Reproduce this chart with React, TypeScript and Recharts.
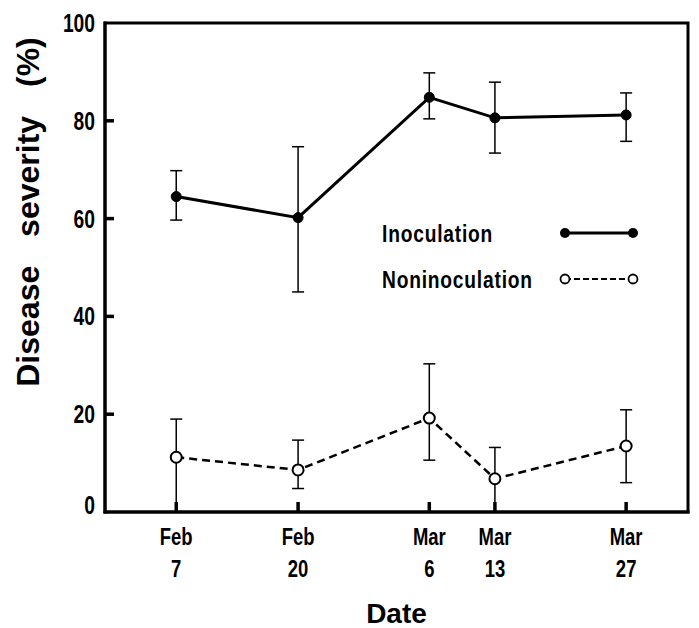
import { ErrorBar, Line, LineChart, ReferenceArea, XAxis, YAxis } from "recharts";

// sampling dates (day of year) and their printed labels
const days = [38, 51, 65, 72, 86];
const months = ["Feb", "Feb", "Mar", "Mar", "Mar"];
const dayLabels = ["7", "20", "6", "13", "27"];
const yTicks = [0, 20, 40, 60, 80, 100];
const xDomain = [30.4, 92.6];

// disease severity (%) with error bars (minus, plus)
const inoculation = [64.5, 60.2, 84.8, 80.6, 81.2];
const inocErrLow = [4.8, 15.2, 4.4, 7.2, 5.4];
const inocErrHigh = [5.3, 14.5, 5.0, 7.3, 4.5];
const noninoculation = [11.2, 8.6, 19.2, 6.8, 13.5];
const noninErrLow = [11.2, 3.8, 8.6, 6.8, 7.5];
const noninErrHigh = [7.8, 6.1, 11.1, 6.4, 7.4];

const data = days.map((d, i) => ({
  day: d,
  inoc: inoculation[i],
  inocErr: [inocErrLow[i], inocErrHigh[i]],
  nonin: noninoculation[i],
  noninErr: [noninErrLow[i], noninErrHigh[i]],
}));

const font = "'Liberation Sans', Arial, Helvetica, sans-serif";
const frame = { stroke: "#000", strokeWidth: 3, strokeLinecap: "square" as const };

// condensed bold text, like the labels of the printed figure
const Narrow = ({ x, y, size, anchor, children, sx = 0.77, ls = 0 }: any) => (
  <text
    transform={`translate(${x},${y}) scale(${sx},1)`}
    textAnchor={anchor}
    fontFamily={font}
    fontWeight={700}
    fontSize={size}
    letterSpacing={ls}
    fill="#000"
  >
    {children}
  </text>
);

const XTick = ({ x, y, payload }: any) => {
  const i = days.indexOf(payload.value);
  return (
    <g>
      <line x1={x} x2={x} y1={y} y2={y - 10} stroke="#000" strokeWidth={3.5} />
      <Narrow x={x} y={y + 33} size={24} anchor="middle">{months[i]}</Narrow>
      <Narrow x={x} y={y + 65} size={24} anchor="middle">{dayLabels[i]}</Narrow>
    </g>
  );
};

const YTick = ({ x, y, payload }: any) => {
  const v = payload.value;
  return (
    <g>
      {v > 0 && v < 100 && <line x1={x} x2={x + 9} y1={y} y2={y} stroke="#000" strokeWidth={3.5} />}
      <Narrow x={x - 10} y={(v === 0 ? y - 7 : y) + 9} size={25} anchor="end">{v}</Narrow>
    </g>
  );
};

const LegendBox = () => (
  <svg width={300} height={90} style={{ position: "absolute", left: 374, top: 208 }}>
    <Narrow x={0} y={26} size={24} anchor="start" sx={0.8} ls={1}>Inoculation</Narrow>
    <line x1={183} x2={251} y1={17} y2={17} stroke="#000" strokeWidth={3} />
    <circle cx={183} cy={17} r={5} fill="#000" />
    <circle cx={251} cy={17} r={5} fill="#000" />
    <Narrow x={0} y={72} size={24} anchor="start" sx={0.8} ls={1}>Noninoculation</Narrow>
    <line x1={183} x2={251} y1={63} y2={63} stroke="#000" strokeWidth={2} strokeDasharray="6 3" />
    <circle cx={183} cy={63} r={4.5} fill="#fff" stroke="#000" strokeWidth={1.8} />
    <circle cx={251} cy={63} r={4.5} fill="#fff" stroke="#000" strokeWidth={1.8} />
  </svg>
);

export default function App() {
  return (
    <div style={{ position: "relative", width: 691, height: 620 }}>
      <LineChart width={691} height={620} data={data} margin={{ top: 15, right: 11, bottom: 0, left: 0 }}>
        <XAxis
          dataKey="day"
          type="number"
          domain={xDomain}
          ticks={days}
          height={116}
          axisLine={frame}
          tickLine={false}
          tickSize={0}
          tickMargin={0}
          tick={<XTick />}
          allowDataOverflow
          label={{ value: "Date", position: "insideBottom", offset: 5, fontFamily: font, fontWeight: 700, fontSize: 28, fill: "#000" }}
        />
        <YAxis
          type="number"
          domain={[0, 100]}
          ticks={yTicks}
          width={97}
          axisLine={frame}
          tickLine={false}
          tickSize={0}
          tickMargin={0}
          tick={<YTick />}
          label={() => (
            <text
              x={20}
              y={204}
              transform="rotate(-90 20 204)"
              textAnchor="middle"
              dominantBaseline="central"
              fontFamily={font}
              fontWeight={700}
              fontSize={32}
              wordSpacing={20}
              fill="#000"
            >
              Disease severity (%)
            </text>
          )}
        />
        <ReferenceArea x1={xDomain[0]} x2={xDomain[1]} y1={0} y2={100} fill="none" stroke="#000" strokeWidth={3} />
        <Line
          dataKey="inoc"
          name="Inoculation"
          stroke="#000"
          strokeWidth={3}
          dot={{ r: 5, fill: "#000", stroke: "#000", strokeWidth: 1 }}
          isAnimationActive={false}
        >
          <ErrorBar dataKey="inocErr" direction="y" width={6} stroke="#000" strokeWidth={1.5} isAnimationActive={false} />
        </Line>
        <Line
          dataKey="nonin"
          name="Noninoculation"
          stroke="#000"
          strokeWidth={2.5}
          strokeDasharray="8 5"
          dot={{ r: 5.5, fill: "#fff", stroke: "#000", strokeWidth: 2, strokeDasharray: "" }}
          isAnimationActive={false}
        >
          <ErrorBar dataKey="noninErr" direction="y" width={6} stroke="#000" strokeWidth={1.5} isAnimationActive={false} />
        </Line>
      </LineChart>
      <LegendBox />
    </div>
  );
}
